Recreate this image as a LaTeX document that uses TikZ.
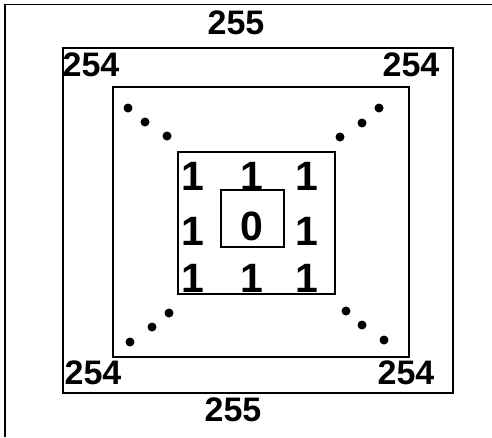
\documentclass[tikz,border=0pt]{standalone}
\usepackage{fontspec}
\setmainfont{Liberation Sans}
\begin{document}
\begin{tikzpicture}[x=1pt,y=-1pt,
  frame/.style={draw=black,line width=1.7pt},
  big/.style={inner sep=0pt,font=\fontsize{34}{34}\selectfont\bfseries},
  inner/.style={inner sep=0pt,font=\fontsize{41}{41}\selectfont\bfseries},
  dotmark/.style={fill=black,circle,inner sep=0pt,minimum size=9pt}]
\useasboundingbox (0,0) rectangle (492,437);
\coordinate (fa) at (5,437);
\coordinate (fb) at (5,4.5);
\coordinate (fc) at (492,4.5);
\draw[frame] (fa) -- (fb) -- (fc);
\draw[frame] (63,48) rectangle (453,393);
\draw[frame] (113,87) rectangle (409,357);
\draw[frame] (178,152) rectangle (335,294);
\draw[frame] (221,190) rectangle (284,247);
% labels
\node[big] (t255) at (236,22.5) {255};
\node[big] (b255) at (233,410) {255};
\node[big] (tl) at (91,65) {254};
\node[big] (tr) at (411,65) {254};
\node[big] (bl) at (93,373) {254};
\node[big] (br) at (406,373) {254};
% inner numbers
\node[inner] (a1) at (193,176) {1};
\node[inner] (a2) at (252,176) {1};
\node[inner] (a3) at (307,176) {1};
\node[inner] (b1) at (193,231) {1};
\node[inner] (z0) at (252,226) {0};
\node[inner] (b3) at (307,231) {1};
\node[inner] (c1) at (193,278) {1};
\node[inner] (c2) at (252,278) {1};
\node[inner] (c3) at (307,278) {1};
% dots
\node[dotmark] (d1) at (128,108) {};
\node[dotmark] (d2) at (145,122) {};
\node[dotmark] (d3) at (167,136) {};
\node[dotmark] (d4) at (379,108) {};
\node[dotmark] (d5) at (362,123) {};
\node[dotmark] (d6) at (340,137) {};
\node[dotmark] (d7) at (130,342) {};
\node[dotmark] (d8) at (152,327) {};
\node[dotmark] (d9) at (169,313) {};
\node[dotmark] (d10) at (346,311) {};
\node[dotmark] (d11) at (362,325) {};
\node[dotmark] (d12) at (384,340) {};
\end{tikzpicture}
\end{document}
